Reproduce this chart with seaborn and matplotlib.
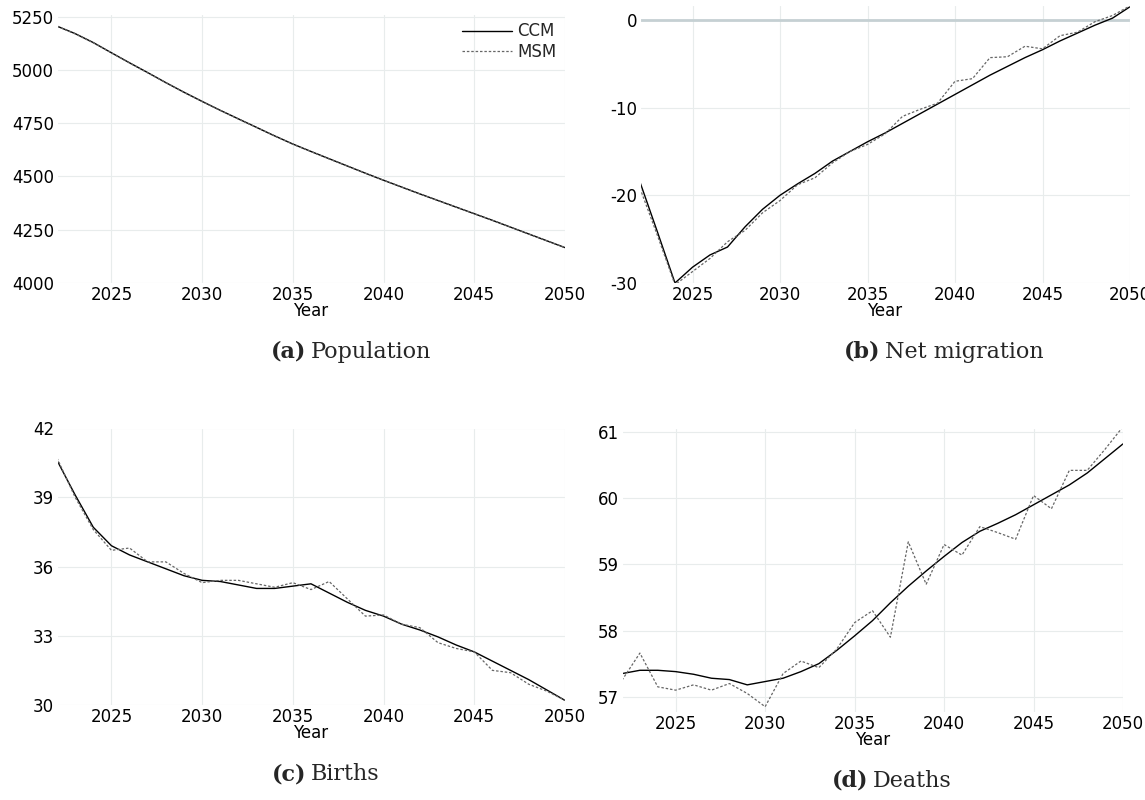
import numpy as np
import pandas as pd
import matplotlib
matplotlib.use('Agg')
import matplotlib.pyplot as plt
import seaborn as sns

years = list(range(2022, 2051))

pop_ccm = [5205, 5170, 5128, 5080, 5033, 4987, 4940, 4895, 4852, 4810, 4770, 4730, 4690, 4652,
           4617, 4583, 4549, 4515, 4482, 4450, 4418, 4387, 4356, 4325, 4294, 4262, 4230, 4198, 4166]
pop_msm = [5205, 5169, 5127, 5080, 5032, 4986, 4940, 4894, 4851, 4810, 4769, 4730, 4690, 4651,
           4617, 4582, 4549, 4515, 4482, 4450, 4418, 4387, 4356, 4325, 4294, 4262, 4230, 4198, 4166]

mig_ccm = [-18.5, -24.2, -30.0, -28.2, -26.8, -25.9, -23.6, -21.6, -20.0, -18.7, -17.5, -16.1, -15.0, -13.9,
           -12.9, -11.8, -10.7, -9.6, -8.5, -7.4, -6.3, -5.3, -4.3, -3.4, -2.4, -1.5, -0.6, 0.2, 1.5]
mig_msm = [-19.2, -24.6, -30.2, -28.7, -27.2, -25.3, -24.0, -22.0, -20.6, -18.8, -18.0, -16.3, -15.0, -14.2,
           -13.0, -11.0, -10.2, -9.5, -7.0, -6.7, -4.3, -4.2, -3.0, -3.3, -1.8, -1.4, -0.2, 0.5, 1.6]

births_ccm = [40.6, 39.1, 37.7, 36.9, 36.5, 36.2, 35.9, 35.6, 35.4, 35.35, 35.2, 35.05, 35.05, 35.15,
              35.25, 34.85, 34.45, 34.1, 33.85, 33.5, 33.25, 32.95, 32.6, 32.3, 31.9, 31.5, 31.1, 30.65, 30.2]
births_msm = [40.7, 39.0, 37.6, 36.7, 36.8, 36.2, 36.2, 35.7, 35.3, 35.4, 35.4, 35.25, 35.1, 35.3,
              35.0, 35.35, 34.6, 33.85, 33.9, 33.5, 33.35, 32.7, 32.45, 32.3, 31.5, 31.4, 30.9, 30.6, 30.2]

deaths_ccm = [57.35, 57.4, 57.4, 57.38, 57.34, 57.28, 57.26, 57.18, 57.23, 57.28, 57.38, 57.5, 57.7, 57.92,
              58.15, 58.42, 58.67, 58.9, 59.12, 59.33, 59.5, 59.62, 59.75, 59.9, 60.05, 60.2, 60.38, 60.6, 60.82]
deaths_msm = [57.25, 57.66, 57.15, 57.1, 57.18, 57.1, 57.2, 57.05, 56.85, 57.35, 57.54, 57.44, 57.72, 58.12,
              58.3, 57.9, 59.34, 58.7, 59.3, 59.14, 59.57, 59.48, 59.38, 60.04, 59.84, 60.42, 60.42, 60.74, 61.08]

sns.set_style('whitegrid', {'grid.color': '#e8ecec', 'axes.edgecolor': 'white'})
plt.rcParams['font.family'] = ['DejaVu Sans']
plt.rcParams['axes.unicode_minus'] = False

W, H = 1145, 800
fig = plt.figure(figsize=(W / 100, H / 100), dpi=100)


def px_axes(x0, y0, x1, y1):
    return fig.add_axes([x0 / W, 1 - y1 / H, (x1 - x0) / W, (y1 - y0) / H])


panels = [
    (px_axes(57, 14, 565, 283), pop_ccm, pop_msm, (4000, 5262), [4000, 4250, 4500, 4750, 5000, 5250], '(a)', 'Population'),
    (px_axes(640, 5, 1130, 283), mig_ccm, mig_msm, (-30, 1.7), [-30, -20, -10, 0], '(b)', 'Net migration'),
    (px_axes(57, 428, 565, 705), births_ccm, births_msm, (30, 42), [30, 33, 36, 39, 42], '(c)', 'Births'),
    (px_axes(622, 428, 1123, 712), deaths_ccm, deaths_msm, (56.77, 61.06), [57, 58, 59, 60, 61], '(d)', 'Deaths'),
]

for ax, ccm, msm, ylim, yticks, tag, name in panels:
    if tag == '(b)':
        ax.axhline(0, color='#c5d0d3', lw=2, zorder=1)
    sns.lineplot(x=years, y=ccm, ax=ax, color='black', lw=1.0, label='CCM')
    sns.lineplot(x=years, y=msm, ax=ax, color='#666666', lw=0.9, linestyle=(0, (2, 1.5)), label='MSM')
    ax.set_xlim(2022, 2050)
    ax.set_ylim(*ylim)
    ax.set_xticks([2025, 2030, 2035, 2040, 2045, 2050])
    ax.set_yticks(yticks)
    ax.tick_params(labelsize=12, length=0, pad=2, labelcolor='black')
    ax.set_xlabel('Year', fontsize=12, labelpad=-1, color='black')
    if tag == '(a)':
        ax.legend(loc='upper right', frameon=False, fontsize=12, handlelength=3,
                  handletextpad=0.3, borderaxespad=0.1, labelspacing=0.15)
    else:
        ax.get_legend().remove()
    pos = ax.get_position()
    cx = (pos.x0 + pos.x1) / 2
    cy = pos.y0 - 69 / H
    fig.text(cx - 0.004, cy, tag, ha='right', va='center', fontsize=16,
             fontweight='bold', family='DejaVu Serif')
    fig.text(cx, cy, name, ha='left', va='center', fontsize=16, family='DejaVu Serif')

fig.savefig('out.png', dpi=100)
